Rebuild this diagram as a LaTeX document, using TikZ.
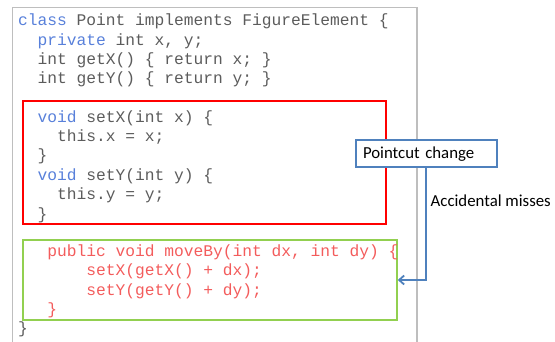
\documentclass[tikz,border=0pt]{standalone}
\usepackage{fontspec}
\setmainfont{Carlito}
\newfontfamily\codefamily{Liberation Mono}
\usetikzlibrary{arrows.meta}
\definecolor{codegray}{RGB}{92,92,92}
\definecolor{kwblue}{RGB}{88,128,218}
\definecolor{codered}{RGB}{243,92,92}
\definecolor{framegray}{RGB}{190,190,190}
\definecolor{boxred}{RGB}{255,0,0}
\definecolor{boxgreen}{RGB}{146,208,80}
\definecolor{noteblue}{RGB}{79,129,189}
\newcommand{\kw}[1]{{\color{kwblue}#1}}
\begin{document}
\begin{tikzpicture}[x=1pt,y=-1pt,
  code/.style={anchor=base west,inner sep=0pt,text=codegray,
    font=\codefamily\fontsize{16.25}{19.4}\selectfont\frenchspacing},
  redcode/.style={code,text=codered},
  frame/.style={draw=framegray,line width=1.2pt},
  region/.style={draw,line width=2pt},
  note/.style={draw=noteblue,line width=1.8pt,fill=white,
    font=\fontsize{16.8}{20}\selectfont,text width=126.4pt,align=left,
    inner xsep=7.3pt,inner ysep=0pt,minimum height=27.3pt},
  link/.style={draw=noteblue,line width=1.8pt,-{Straight Barb[length=5pt,width=9pt]}}]
\useasboundingbox (0,0) rectangle (555,342);

% listing frame, open at the bottom
\draw[frame] (12.7,342) -- (12.7,7.5) -- (417,7.5) -- (417,342);

% highlighted regions
\node[region,draw=boxred,minimum width=363pt,minimum height=123.3pt,inner sep=0pt]
  (setters) at (204.2,162.3) {};
\node[region,draw=boxgreen,line width=2.2pt,minimum width=374pt,minimum height=80pt,inner sep=0pt]
  (moveby) at (209.7,280) {};

% class header
\node[code] (l1) at (18,26)   {\kw{class} Point implements FigureElement \{};
\node[code] (l2) at (37.5,45.3) {\kw{private} int x, y;};
\node[code] (l3) at (37.5,64.6) {int getX() \{ return x; \}};
\node[code] (l4) at (37.5,83.9) {int getY() \{ return y; \}};

% setters
\node[code] (s1) at (37.5,122.3) {\kw{void} setX(int x) \{};
\node[code] (s2) at (57,141.7)   {this.x = x;};
\node[code] (s3) at (37.5,161)   {\}};
\node[code] (s4) at (37.5,180.4) {\kw{void} setY(int y) \{};
\node[code] (s5) at (57,199.8)   {this.y = y;};
\node[code] (s6) at (37.5,219.2) {\}};

% moveBy
\node[redcode] (m1) at (47.25,256.7) {public void moveBy(int dx, int dy) \{};
\node[redcode] (m2) at (86.25,276)   {setX(getX() + dx);};
\node[redcode] (m3) at (86.25,295.3) {setY(getY() + dy);};
\node[redcode] (m4) at (47.25,314.7) {\}};

\node[code] (end) at (18,334) {\}};

% pointcut note and its link
\node[note] (pc) at (426.2,153.7) {Pointcut change};
\draw[link] (pc.south) |- (moveby.east);
\node[anchor=west,inner sep=0pt,font=\fontsize{16.8}{20}\selectfont]
  (miss) at (430.5,200.7) {Accidental misses};
\end{tikzpicture}
\end{document}
